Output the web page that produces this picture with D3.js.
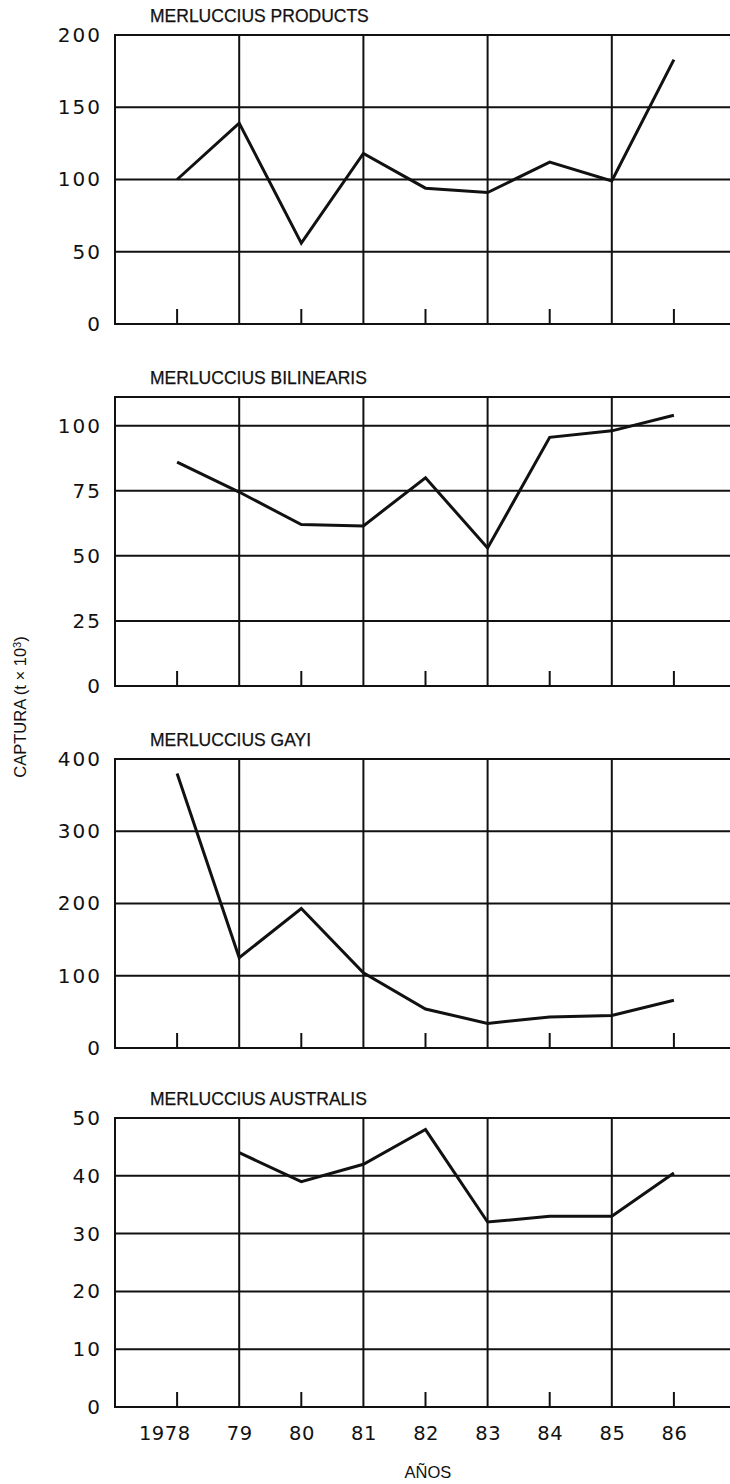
<!DOCTYPE html>
<html>
<head>
<meta charset="utf-8">
<script src="https://cdn.jsdelivr.net/npm/d3@7"></script>
<style>
  html, body { margin: 0; padding: 0; background: #fff; }
  svg { display: block; }
</style>
</head>
<body>
<div id="chart"></div>
<script>
// ---------------- data ----------------
const years = [1978, 1979, 1980, 1981, 1982, 1983, 1984, 1985, 1986];
const yearLabels = ["1978", "79", "80", "81", "82", "83", "84", "85", "86"];
const gridYears = [1979, 1981, 1983, 1985];          // full-height vertical lines
const tickYears = [1978, 1980, 1982, 1984, 1986];    // short tick marks

const panelTitles = ["MERLUCCIUS PRODUCTS", "MERLUCCIUS BILINEARIS", "MERLUCCIUS GAYI", "MERLUCCIUS AUSTRALIS"];

const productsValues   = [100, 139, 56, 118, 94, 91, 112, 99, 183];
const bilinearisValues = [86, 74.5, 62, 61.5, 80, 53, 95.5, 98, 104];
const gayiValues       = [380, 125, 193, 104, 54, 34, 43, 45, 66];
const australisValues  = [null, 44, 39, 42, 48, 32, 33, 33, 40.5];

const productsTicks   = [0, 50, 100, 150, 200];
const bilinearisTicks = [0, 25, 50, 75, 100];
const gayiTicks       = [0, 100, 200, 300, 400];
const australisTicks  = [0, 10, 20, 30, 40, 50];

const domainMax = [200, 111, 400, 50];

const yAxisTitle = "CAPTURA (t × 10";
const yAxisTitleSup = "3";
const xAxisTitle = "AÑOS";

// ---------------- layout ----------------
const W = 730, H = 1484;
const panelTops = [35, 397, 759, 1118];
const panelH = 289;
const plotLeft = 115;

const seriesList = [productsValues, bilinearisValues, gayiValues, australisValues];
const tickList = [productsTicks, bilinearisTicks, gayiTicks, australisTicks];

const svg = d3.select("#chart").append("svg")
  .attr("width", W).attr("height", H)
  .attr("viewBox", `0 0 ${W} ${H}`);

svg.append("rect").attr("width", W).attr("height", H).attr("fill", "#fff");

const x = d3.scaleLinear().domain([1977, 1987]).range([plotLeft, plotLeft + 621]);
const xRight = W;

const ink = "#111";

seriesList.forEach((vals, i) => {
  const top = panelTops[i];
  const bottom = top + panelH;
  const y = d3.scaleLinear().domain([0, domainMax[i]]).range([bottom, top]);
  const g = svg.append("g");

  // title
  g.append("text")
    .attr("x", 150).attr("y", top - 13)
    .attr("font-family", "'Liberation Sans', Arial, sans-serif")
    .attr("font-size", 17.5)
    .attr("fill", ink)
    .attr("stroke", ink).attr("stroke-width", 0.25)
    .text(panelTitles[i]);

  // horizontal grid lines at ticks
  g.selectAll("line.h").data(tickList[i]).join("line")
    .attr("x1", plotLeft).attr("x2", xRight)
    .attr("y1", d => y(d)).attr("y2", d => y(d))
    .attr("stroke", ink).attr("stroke-width", 2);

  // top border
  g.append("line")
    .attr("x1", plotLeft).attr("x2", xRight)
    .attr("y1", y(domainMax[i])).attr("y2", y(domainMax[i]))
    .attr("stroke", ink).attr("stroke-width", 2);

  // left border
  g.append("line")
    .attr("x1", plotLeft).attr("x2", plotLeft)
    .attr("y1", top - 1).attr("y2", bottom + 1)
    .attr("stroke", ink).attr("stroke-width", 2);

  // vertical grid lines
  g.selectAll("line.v").data(gridYears).join("line")
    .attr("x1", d => x(d)).attr("x2", d => x(d))
    .attr("y1", top).attr("y2", bottom)
    .attr("stroke", ink).attr("stroke-width", 2);

  // short ticks
  g.selectAll("line.t").data(tickYears).join("line")
    .attr("x1", d => x(d)).attr("x2", d => x(d))
    .attr("y1", bottom - 15).attr("y2", bottom)
    .attr("stroke", ink).attr("stroke-width", 2);

  // y axis labels (d3 axis, no tick lines)
  const ax = d3.axisLeft(y).tickValues(tickList[i]).tickSize(0).tickPadding(0).tickFormat(d3.format("d"));
  const axg = g.append("g").attr("transform", `translate(${plotLeft - 13},0)`).call(ax);
  axg.select(".domain").remove();
  axg.selectAll("text")
    .attr("font-family", "'DejaVu Sans', sans-serif")
    .attr("font-size", 20)
    .attr("letter-spacing", 2)
    .attr("fill", ink);

  // data line
  const line = d3.line()
    .defined(d => d.v != null)
    .x(d => x(d.year))
    .y(d => y(d.v));
  g.append("path")
    .datum(years.map((yr, k) => ({ year: yr, v: vals[k] })))
    .attr("d", line)
    .attr("fill", "none")
    .attr("stroke", ink)
    .attr("stroke-width", 3)
    .attr("stroke-linejoin", "miter");
});

// x axis labels under last panel
const lastBottom = panelTops[3] + panelH;
const xAx = d3.axisBottom(x).tickValues(years).tickSize(0).tickPadding(0)
  .tickFormat((d, k) => yearLabels[k]);
const xg = svg.append("g").attr("transform", `translate(0,${lastBottom})`).call(xAx);
xg.select(".domain").remove();
xg.selectAll("text")
  .attr("font-family", "'DejaVu Sans', sans-serif")
  .attr("font-size", 19.5)
  .attr("letter-spacing", 0.5)
  .attr("fill", ink)
  .attr("text-anchor", "end")
  .attr("dx", 13)
  .attr("dy", 0)
  .attr("y", 33);

// axis titles
svg.append("text")
  .attr("x", 428).attr("y", 1478)
  .attr("text-anchor", "middle")
  .attr("font-family", "'Liberation Sans', Arial, sans-serif")
  .attr("font-size", 16.5)
  .attr("fill", ink)
  .text(xAxisTitle);

const yt = svg.append("text")
  .attr("transform", "translate(26,707) rotate(-90)")
  .attr("text-anchor", "middle")
  .attr("font-family", "'Liberation Sans', Arial, sans-serif")
  .attr("font-size", 16.5)
  .attr("fill", ink);
yt.append("tspan").text(yAxisTitle);
yt.append("tspan").attr("font-size", 11).attr("dy", -5).text(yAxisTitleSup);
yt.append("tspan").attr("dy", 5).text(")");
</script>
</body>
</html>
